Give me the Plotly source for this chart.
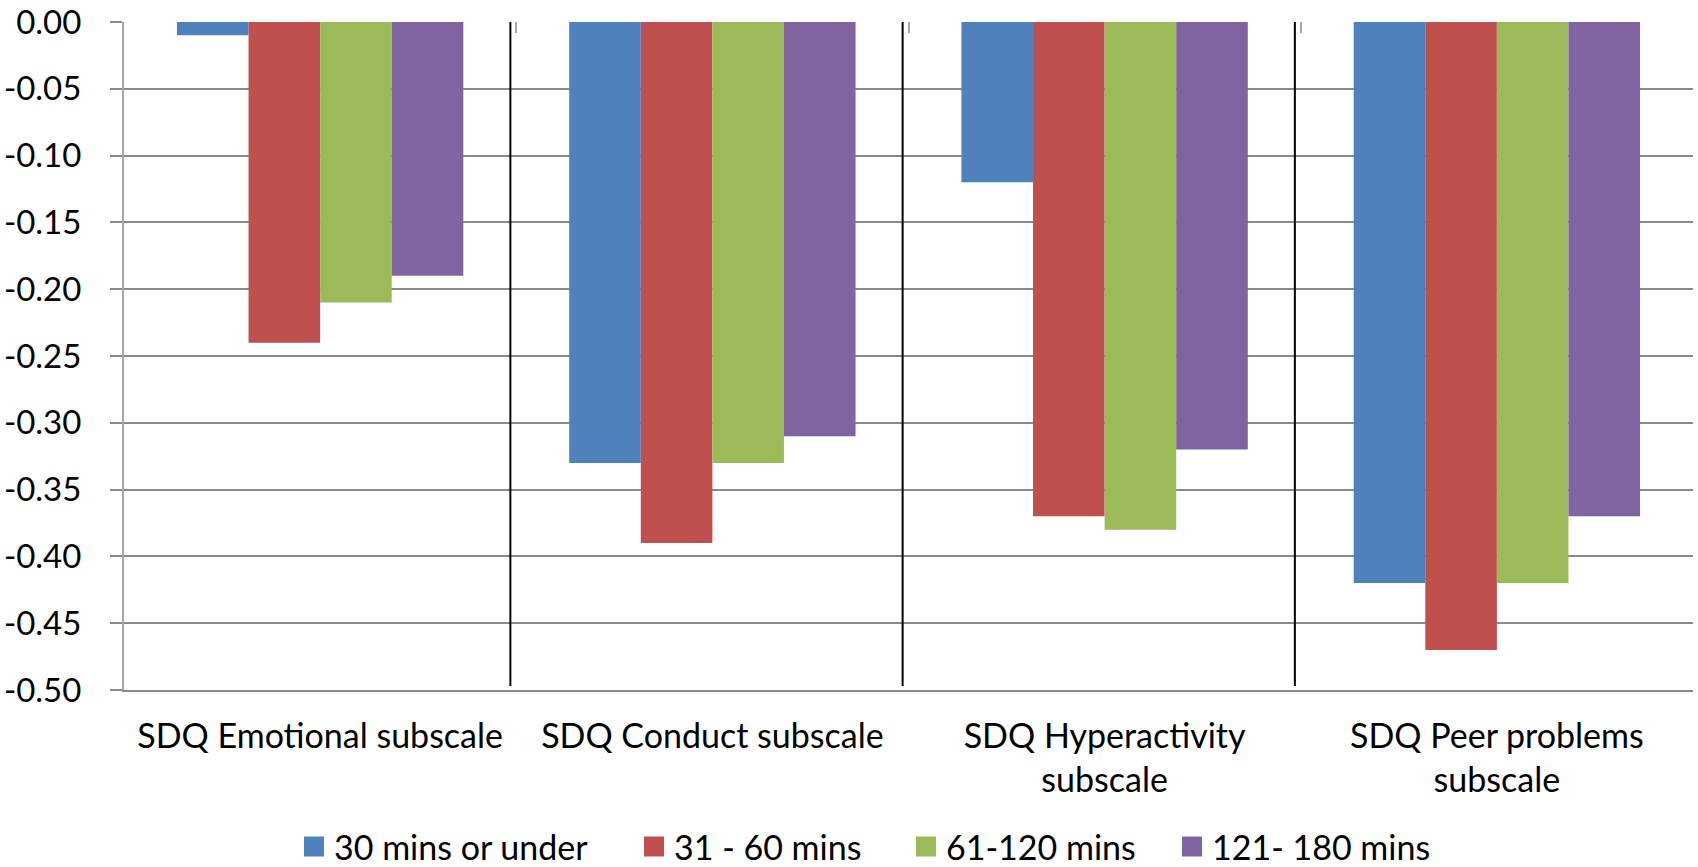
import plotly.graph_objects as go

# SDQ subscale differences by daily duration group
categories = [
    "SDQ Emotional subscale",
    "SDQ Conduct subscale",
    "SDQ Hyperactivity<br>subscale",
    "SDQ Peer problems<br>subscale",
]
series_names = ["30 mins or under", "31 - 60 mins", "61-120 mins", "121- 180 mins"]
under_30 = [-0.01, -0.33, -0.12, -0.42]
mins_31_60 = [-0.24, -0.39, -0.37, -0.47]
mins_61_120 = [-0.21, -0.33, -0.38, -0.42]
mins_121_180 = [-0.19, -0.31, -0.32, -0.37]
colors = ["#4F81BD", "#C0504D", "#9BBB59", "#8064A2"]
y_ticks = [0.0, -0.05, -0.10, -0.15, -0.20, -0.25, -0.30, -0.35, -0.40, -0.45, -0.50]
y_tick_text = ["0.00", "-0.05", "-0.10", "-0.15", "-0.20", "-0.25",
               "-0.30", "-0.35", "-0.40", "-0.45", "-0.50"]

FONT = "Lato"
GRID = "#8A8A8A"
LEFT, RIGHT = 124, 5
PLOT_W = 1698 - LEFT - RIGHT

# left edge (px) of each legend entry
legend_px = [294, 634, 906, 1172]

fig = go.Figure()
series = [under_30, mins_31_60, mins_61_120, mins_121_180]
for k, (name, vals, col) in enumerate(zip(series_names, series, colors)):
    fig.add_trace(go.Bar(
        x=categories, y=vals, name=name, showlegend=False,
        marker=dict(color=col, line=dict(width=0)),
    ))
    # legend entry with a larger square swatch
    leg = "legend" if k == 0 else f"legend{k + 1}"
    fig.add_trace(go.Scatter(
        x=[None], y=[None], mode="markers", name=name, legend=leg,
        marker=dict(symbol="square", size=16, color=col,
                    line=dict(color=col, width=4)),
        showlegend=True, hoverinfo="skip",
    ))

# invisible trace on a top axis that carries the category-boundary tick marks
fig.add_trace(go.Scatter(x=categories, y=[0] * len(categories), xaxis="x2",
                         mode="markers", marker=dict(opacity=0), showlegend=False,
                         hoverinfo="skip"))

# black separators between category groups
for i in range(len(categories) - 1):
    fig.add_shape(type="line", xref="x", yref="y",
                  x0=i + 0.5 - 0.015, x1=i + 0.5 - 0.015, y0=0, y1=-0.497,
                  line=dict(color="black", width=2))

legend_font = dict(family=FONT, size=34, color="black")
legend_layout = {}
for k, px in enumerate(legend_px):
    key = "legend" if k == 0 else f"legend{k + 1}"
    legend_layout[key] = dict(
        orientation="h", x=(px - LEFT) / PLOT_W, xanchor="left",
        yref="container", y=(867 - 847) / 867, yanchor="middle",
        font=legend_font, itemwidth=30, bgcolor="rgba(0,0,0,0)",
    )

fig.update_layout(
    width=1698, height=867,
    margin=dict(l=LEFT, r=RIGHT, t=22, b=177),
    paper_bgcolor="white", plot_bgcolor="white",
    barmode="group", bargap=0.27, bargroupgap=0,
    font=dict(family=FONT, size=33, color="black"),
    xaxis=dict(
        type="category", showgrid=False, ticks="", showline=True,
        linecolor=GRID, linewidth=2, mirror=False,
        tickfont=dict(family=FONT, size=34, color="black"),
        ticklabelstandoff=15, automargin=False,
    ),
    xaxis2=dict(
        type="category", overlaying="x", side="top", matches="x",
        showgrid=False, showticklabels=False, ticks="inside",
        tickson="boundaries", ticklen=11, tickwidth=2, tickcolor="#A6A6A6",
        showline=False,
    ),
    yaxis=dict(
        range=[-0.5, 0], tickvals=y_ticks, ticktext=y_tick_text,
        showgrid=True, gridcolor=GRID, gridwidth=2,
        zeroline=False, showline=True, linecolor="#A6A6A6", linewidth=2,
        ticks="outside", ticklen=12, tickwidth=2, tickcolor=GRID,
        tickfont=dict(family=FONT, size=33, color="black"),
        ticklabelstandoff=22, automargin=False,
    ),
    **legend_layout,
)

fig.write_html("out.html")
